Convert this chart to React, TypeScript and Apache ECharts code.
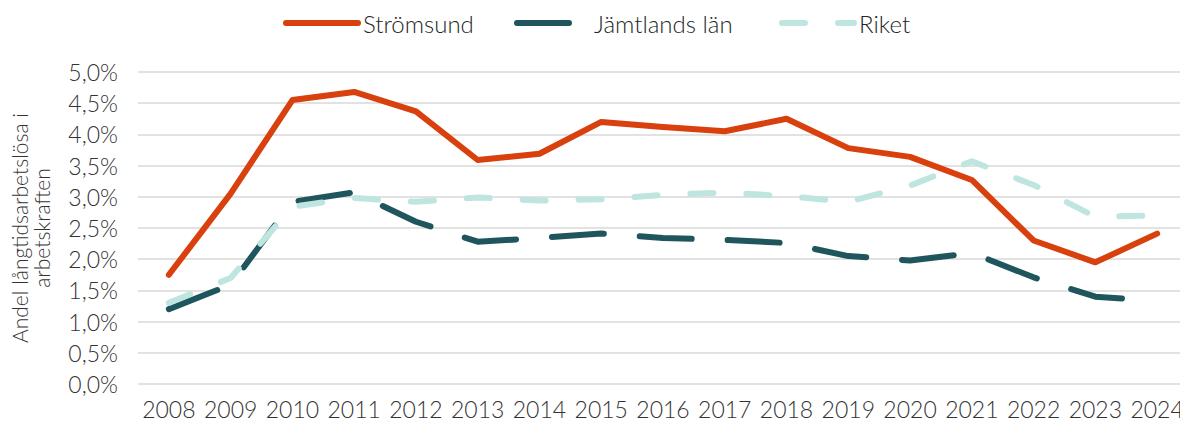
import React, { useEffect, useRef } from "react";
import * as echarts from "echarts";

const years = ["2008","2009","2010","2011","2012","2013","2014","2015","2016","2017","2018","2019","2020","2021","2022","2023","2024"];
const stromsund = [1.75, 3.05, 4.55, 4.68, 4.37, 3.59, 3.69, 4.20, 4.12, 4.05, 4.25, 3.78, 3.64, 3.27, 2.30, 1.95, 2.41];
const jamtland = [1.20, 1.59, 2.92, 3.07, 2.60, 2.28, 2.34, 2.41, 2.34, 2.31, 2.26, 2.05, 1.98, 2.10, 1.71, 1.40, 1.33];
const riket = [1.30, 1.70, 2.84, 2.98, 2.92, 2.99, 2.94, 2.96, 3.03, 3.07, 3.01, 2.92, 3.18, 3.57, 3.19, 2.68, 2.70];

const FONT = "Lato";
const C_ORANGE = "#D8400E";
const C_DARK = "#1F555D";
const C_LIGHT = "#BFE5E0";

export default function App() {
  const ref = useRef<HTMLDivElement>(null);
  useEffect(() => {
    const chart = echarts.init(ref.current!, null, { renderer: "svg" });
    const legendBase = {
      top: 6,
      itemWidth: 72,
      itemHeight: 16,
      textStyle: { fontFamily: FONT, fontSize: 24, fontWeight: 300, color: "#262626" },
      lineStyle: { width: 6 },
      itemStyle: { opacity: 0 },
      selectedMode: false,
    };
    chart.setOption({
      animation: false,
      legend: [
        { ...legendBase, left: 278, data: ["Strömsund"] },
        { ...legendBase, left: 509, data: ["Jämtlands län"] },
        { ...legendBase, left: 774, data: ["Riket"] },
      ],
      grid: { left: 138, right: 0, top: 72, bottom: 39, containLabel: false, outerBoundsMode: "none" },
      xAxis: {
        type: "category",
        data: years,
        axisLine: { show: false },
        axisTick: { show: false },
        axisLabel: { interval: 0, fontFamily: FONT, fontSize: 23, fontWeight: 300, color: "#333", margin: 13 },
      },
      yAxis: {
        type: "value",
        min: 0,
        max: 5,
        interval: 0.5,
        name: "Andel långtidsarbetslösa i\narbetskraften",
        nameLocation: "middle",
        nameRotate: 90,
        nameGap: 86,
        nameTextStyle: { fontFamily: FONT, fontSize: 21, fontWeight: 300, color: "#333", lineHeight: 22 },
        axisLabel: {
          fontFamily: FONT,
          fontSize: 23,
          fontWeight: 300,
          color: "#333",
          margin: 20,
          formatter: (v: number) => v.toFixed(1).replace(".", ",") + "%",
        },
        splitLine: { lineStyle: { color: "#D9D9D9", width: 1.5 } },
      },
      series: [
        {
          name: "Strömsund",
          type: "line",
          data: stromsund,
          symbol: "none",
          lineStyle: { color: C_ORANGE, width: 6, cap: "round", join: "round" },
          itemStyle: { color: C_ORANGE },
        },
        {
          name: "Jämtlands län",
          type: "line",
          data: jamtland,
          symbol: "none",
          lineStyle: { color: C_DARK, width: 6, type: [52, 36], cap: "round", join: "round" },
          itemStyle: { color: C_DARK },
        },
        {
          name: "Riket",
          type: "line",
          data: riket,
          symbol: "none",
          lineStyle: { color: C_LIGHT, width: 6, type: [23, 33], cap: "round", join: "round" },
          itemStyle: { color: C_LIGHT },
        },
      ],
    });
    return () => chart.dispose();
  }, []);
  return <div ref={ref} style={{ width: 1188, height: 423, marginLeft: -8, marginTop: -8 }} />;
}
